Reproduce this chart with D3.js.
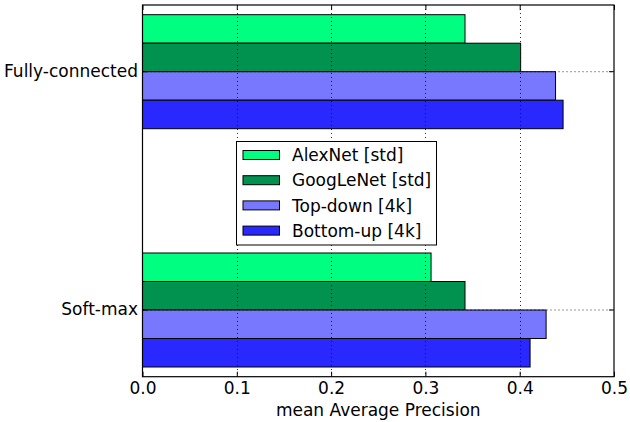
<!DOCTYPE html>
<html><head><meta charset="utf-8">
<script src="https://cdn.jsdelivr.net/npm/d3@7"></script>
<style>body{margin:0;background:#fff}svg{display:block}text{font-family:"DejaVu Sans",sans-serif}</style>
</head><body>
<svg id="c" width="630" height="422"></svg>
<script>
const categories = ["Fully-connected", "Soft-max"];
const series = ["AlexNet [std]", "GoogLeNet [std]", "Top-down [4k]", "Bottom-up [4k]"];
const alexnet = [0.342, 0.306];
const googlenet = [0.401, 0.342];
const topdown = [0.438, 0.428];
const bottomup = [0.446, 0.411];
const xTicks = [0.0, 0.1, 0.2, 0.3, 0.4, 0.5];
const colors = ["#00ff80", "#00924e", "#7878ff", "#2828ff"];
const values = [alexnet, googlenet, topdown, bottomup];

const W = 630, H = 422;
const FS = 17;
const m = {l: 142.5, r: 16, t: 5, b: 45.3};
const svg = d3.select("#c");
const x = d3.scaleLinear().domain([0, 0.5]).range([m.l, W - m.r]);
const y = d3.scaleBand().domain(categories).range([m.t, H - m.b]).paddingInner(0.5216).paddingOuter(0.0407);
const yi = d3.scaleBand().domain(series).range([0, y.bandwidth()]);

// bars
categories.forEach((cat, ci) => {
  series.forEach((s, si) => {
    svg.append("rect")
      .attr("x", x(0)).attr("y", y(cat) + yi(s))
      .attr("width", x(values[si][ci]) - x(0)).attr("height", yi.bandwidth())
      .attr("fill", colors[si]).attr("stroke", "#000").attr("stroke-width", 1);
  });
});

// grid (on top)
const g = svg.append("g");
xTicks.slice(1, -1).forEach(t => {
  g.append("line").attr("x1", Math.round(x(t)) + 0.5).attr("x2", Math.round(x(t)) + 0.5)
    .attr("y1", m.t).attr("y2", H - m.b).attr("stroke", "#000").attr("stroke-width", 1)
    .attr("stroke-dasharray", "1,3").attr("opacity", 0.8);
});
categories.forEach(c => {
  const yy = y(c) + y.bandwidth() / 2;
  g.append("line").attr("x1", m.l).attr("x2", W - m.r).attr("y1", yy).attr("y2", yy)
    .attr("stroke", "#000").attr("stroke-width", 1).attr("stroke-dasharray", "1,3").attr("opacity", 0.8);
});

// axes
const xAxis = d3.axisBottom(x).tickValues(xTicks).tickFormat(d3.format(".1f")).tickSizeInner(-5).tickSizeOuter(0).tickPadding(5);
const ax = svg.append("g").attr("transform", `translate(0,${H - m.b})`).call(xAxis);
ax.select(".domain").remove();
ax.selectAll("text").attr("font-size", FS).attr("fill", "#000").attr("font-family", "DejaVu Sans");
const xTop = d3.axisTop(x).tickValues(xTicks).tickFormat("").tickSizeInner(-5).tickSizeOuter(0);
const at = svg.append("g").attr("transform", `translate(0,${m.t})`).call(xTop);
at.select(".domain").remove();

const yAxis = d3.axisLeft(y).tickSizeInner(-5).tickSizeOuter(0).tickPadding(4.5);
const ay = svg.append("g").attr("transform", `translate(${m.l},0)`).call(yAxis);
ay.select(".domain").remove();
ay.selectAll("text").attr("font-size", FS).attr("fill", "#000").attr("font-family", "DejaVu Sans");
const yR = d3.axisRight(y).tickSizeInner(-5).tickSizeOuter(0).tickFormat("");
const ar = svg.append("g").attr("transform", `translate(${W - m.r},0)`).call(yR);
ar.select(".domain").remove();

// frame
svg.append("rect").attr("x", m.l).attr("y", m.t).attr("width", W - m.r - m.l).attr("height", H - m.b - m.t)
  .attr("fill", "none").attr("stroke", "#000").attr("stroke-width", 1.2);

svg.append("text").attr("x", (m.l + W - m.r) / 2).attr("y", 416).attr("text-anchor", "middle")
  .attr("font-size", FS).text("mean Average Precision");

// legend
const lg = svg.append("g");
lg.append("rect").attr("x", 236.5).attr("y", 141.5).attr("width", 200).attr("height", 103.5)
  .attr("fill", "#fff").attr("stroke", "#000").attr("stroke-width", 1);
series.forEach((s, i) => {
  const cy = 155 + i * 25.2;
  lg.append("rect").attr("x", 243).attr("y", cy - 4.5).attr("width", 36.5).attr("height", 9)
    .attr("fill", colors[i]).attr("stroke", "#000").attr("stroke-width", 1);
  lg.append("text").attr("x", 292).attr("y", cy).attr("dy", "0.36em").attr("font-size", FS).text(s);
});
</script>
</body></html>
